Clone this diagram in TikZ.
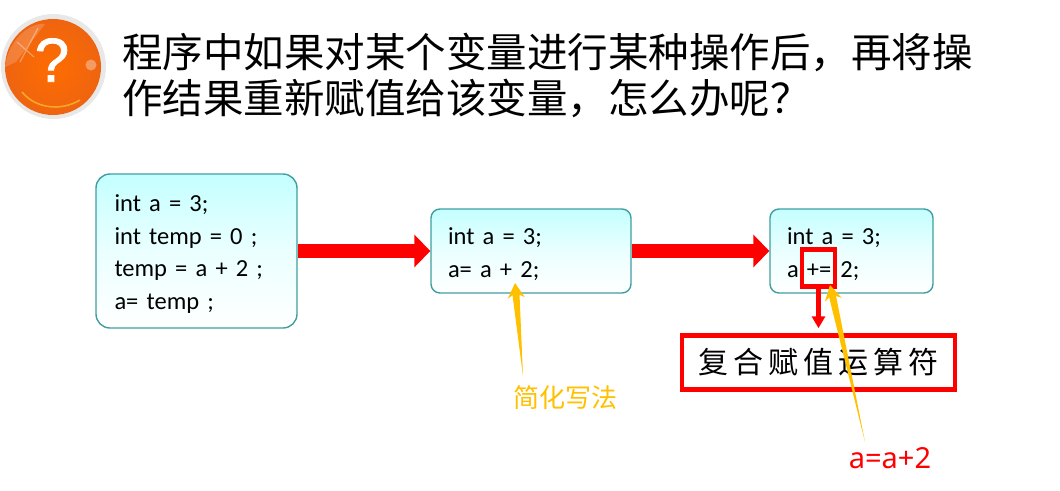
\documentclass[tikz,border=0pt]{standalone}
\usepackage{fontspec}
\usepackage{xcolor}
\usetikzlibrary{arrows.meta,calc}
\setmainfont{Carlito}
\newfontfamily\cjk{Noto Sans CJK SC}
\newfontfamily\labelfont{Noto Sans}
\newfontfamily\markfont[FakeBold=1.2]{Liberation Sans}
\definecolor{boxedge}{HTML}{3F9EA0}
\definecolor{boxtop}{HTML}{C4FFFF}
\definecolor{noteyellow}{HTML}{FFC000}
\definecolor{ballorange}{HTML}{EE6410}
\newcommand{\codetop}{\rule{0pt}{23pt}}
\newcommand{\taperarrow}[2]{%
  \fill[noteyellow] (#2) -- ($(#2)!15pt!(#1)!8.5pt!90:(#1)$) -- ($(#2)!12pt!(#1)!3.5pt!90:(#1)$)
    -- (#1) -- ($(#2)!12pt!(#1)!3.5pt!-90:(#1)$) -- ($(#2)!15pt!(#1)!8.5pt!-90:(#1)$) -- cycle;}

\begin{document}
\begin{tikzpicture}[
    x=1pt, y=-1pt,
    codebox/.style={draw=boxedge, line width=1.4pt, top color=boxtop, bottom color=white, middle color=boxtop!35!white, inner sep=0pt,
      align=left, text=black, font=\fontsize{24.5}{32.5}\selectfont},
    flowarr/.style={-{Triangle[length=16pt,width=32pt]}, red, line width=14pt},
    redframe/.style={draw=red, line width=4.5pt, inner sep=0pt},
    note/.style={inner sep=0pt},
]
\useasboundingbox (0,0) rectangle (1060,490);

% Question ball
\node[circle, fill=black!9, minimum size=105pt, inner sep=0pt] (ballring) at (53.5,66.5) {};
\node[circle, inner color=orange!85!red, outer color=ballorange, minimum size=96pt, inner sep=0pt] (ball) at (53,67) {};
\begin{scope}
\clip (53,67) circle (48pt);
\fill[white, opacity=0.18] (5,67) .. controls (8,40) and (30,22) .. (45,24) -- (16,62) -- cycle;
\draw[white, opacity=0.35, line width=1.2pt] (17,42) -- (34,57) (38,28) -- (20,62);
\draw[yellow!70!white, opacity=0.45, line width=1.6pt] (22,92) .. controls (35,108) and (60,112) .. (80,100);
\end{scope}
\fill[white, opacity=0.35] (91,65) circle (5.5pt);
\node[text=white, font=\markfont\fontsize{62}{62}\selectfont, inner sep=0pt] (mark) at (52,60) {?};

% Title
\node[anchor=west, align=left, inner sep=0pt, font=\cjk\fontsize{40.5}{46}\selectfont] (title) at (122,75.5)
  {程序中如果对某个变量进行某种操作后，再将操\\作结果重新赋值给该变量，怎么办呢？};

% Code boxes
\node[codebox, rounded corners=14pt, minimum width=201pt, minimum height=154pt, text width=164pt] (longbox) at (196.5,251)
  {\codetop int a = 3;\\int temp = 0 ;\\temp = a + 2 ;\\a= temp ;};
\node[codebox, rounded corners=9pt, minimum width=200pt, minimum height=84pt, text width=166pt] (midbox) at (531,251)
  {\codetop int a = 3;\\a= a + 2;};
\node[codebox, rounded corners=9pt, minimum width=163pt, minimum height=84pt, text width=129pt] (shortbox) at (851.5,251)
  {\codetop int a = 3;\\a +=\hspace{1pt} 2;};

% Flow arrows
\draw[flowarr] (longbox) -- (midbox);
\draw[flowarr] (midbox) -- (shortbox);

% Operator frame and its name
\node[redframe, minimum width=33pt, minimum height=37pt] (opframe) at (818.5,268) {};
\node[redframe, minimum width=273pt, minimum height=54pt, font=\cjk\fontsize{30}{30}\selectfont] (opname) at (818.5,362.5)
  {复\hspace{5pt}合\hspace{5pt}赋\hspace{5pt}值\hspace{5pt}运\hspace{5pt}算\hspace{5pt}符};
\draw[-{Triangle[length=12pt,width=13pt]}, red, line width=4.5pt, shorten >=5pt] (opframe.south) -- (opname.north);

% Notes
\node[note, text=noteyellow, font=\cjk\fontsize{26}{26}\selectfont] (shortnote) at (565,398) {简化写法};
\node[note, text=red, font=\labelfont\fontsize{29}{29}\selectfont] (expandnote) at (890,458) {a=a+2};
\coordinate (shorttail) at (523,376);
\coordinate (shorttip) at (515,283);
\coordinate (expandtail) at (865,442);
\coordinate (expandtip) at (830,285);
\taperarrow{shorttail}{shorttip}
\taperarrow{expandtail}{expandtip}
\end{tikzpicture}
\end{document}
